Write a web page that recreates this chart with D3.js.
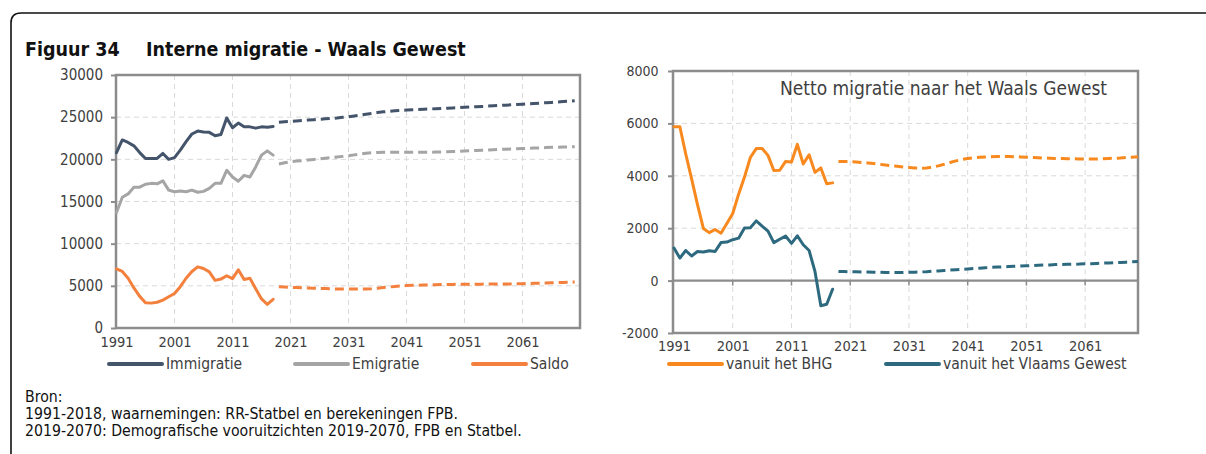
<!DOCTYPE html>
<html>
<head>
<meta charset="utf-8">
<script src="https://cdn.jsdelivr.net/npm/d3@7"></script>
<style>
  html, body { margin: 0; padding: 0; background: #fff; }
  svg { display: block; }
</style>
</head>
<body>
<svg id="fig" width="1206" height="454"></svg>
<script>
// ---- Data -------------------------------------------------------------
// Observed years 1991-2018, projection years 2019-2070
const obsYears = d3.range(1991, 2019);
const projYears = d3.range(2019, 2071);
const yearTicks = [1991, 2001, 2011, 2021, 2031, 2041, 2051, 2061];
const leftYTicks = [0, 5000, 10000, 15000, 20000, 25000, 30000];
const rightYTicks = [-2000, 0, 2000, 4000, 6000, 8000];

// Interne migratie - Waals Gewest (waarnemingen)
const immigratieObs = [20800, 22300, 22000, 21600, 20800, 20100, 20100, 20100, 20700, 20000,
  20200, 21100, 22100, 23000, 23350, 23250, 23200, 22800, 22950, 24900,
  23750, 24300, 23850, 23850, 23700, 23850, 23800, 23900];
const emigratieObs = [13700, 15500, 15900, 16700, 16700, 17050, 17150, 17100, 17450, 16350,
  16150, 16250, 16150, 16350, 16100, 16200, 16550, 17150, 17150, 18700,
  17900, 17400, 18100, 17900, 19100, 20500, 21000, 20500];
const saldoObs = [7000, 6700, 5900, 4750, 3750, 3000, 2950, 3050, 3300, 3700,
  4100, 4900, 5900, 6700, 7250, 7050, 6650, 5650, 5800, 6200,
  5850, 6900, 5750, 5900, 4650, 3450, 2800, 3400];

// Vooruitzichten 2019-2070
const immigratieProj = [24400, 24450, 24500, 24550, 24600, 24650, 24700, 24750, 24800, 24850,
  24900, 24980, 25050, 25150, 25250, 25350, 25450, 25550, 25630, 25700,
  25760, 25810, 25850, 25880, 25910, 25940, 25970, 26000, 26030, 26060,
  26100, 26130, 26170, 26200, 26240, 26270, 26310, 26350, 26380, 26420,
  26460, 26500, 26530, 26570, 26620, 26660, 26710, 26750, 26800, 26850,
  26900, 26950];
const emigratieProj = [19450, 19600, 19720, 19790, 19850, 19920, 19990, 20060, 20130, 20200,
  20270, 20350, 20430, 20530, 20630, 20720, 20790, 20820, 20830, 20840,
  20840, 20830, 20830, 20830, 20840, 20840, 20850, 20860, 20880, 20900,
  20930, 20960, 20990, 21020, 21050, 21080, 21110, 21140, 21170, 21200,
  21220, 21250, 21270, 21300, 21330, 21360, 21390, 21420, 21440, 21460,
  21480, 21500];
const saldoProj = [4900, 4860, 4820, 4790, 4760, 4730, 4710, 4690, 4670, 4650,
  4630, 4620, 4610, 4610, 4610, 4630, 4660, 4720, 4790, 4860,
  4920, 4980, 5030, 5060, 5080, 5100, 5120, 5140, 5150, 5160,
  5170, 5180, 5190, 5190, 5200, 5200, 5210, 5210, 5220, 5220,
  5230, 5250, 5260, 5280, 5300, 5320, 5340, 5360, 5390, 5410,
  5430, 5460];

// Netto migratie naar het Waals Gewest
const bhgObs = [5870, 5870, 4830, 3880, 2900, 1990, 1830, 1950, 1810, 2180,
  2560, 3300, 3950, 4700, 5040, 5040, 4780, 4200, 4210, 4550,
  4530, 5200, 4450, 4800, 4130, 4300, 3700, 3730];
const vlaamsObs = [1240, 860, 1150, 940, 1110, 1090, 1140, 1110, 1450, 1470,
  1560, 1620, 2010, 2020, 2280, 2080, 1890, 1450, 1580, 1700,
  1420, 1710, 1370, 1150, 350, -960, -900, -330];
const bhgProj = [4550, 4550, 4540, 4530, 4510, 4490, 4470, 4440, 4410, 4380,
  4360, 4340, 4320, 4300, 4290, 4300, 4330, 4380, 4440, 4510,
  4570, 4620, 4660, 4690, 4710, 4720, 4730, 4740, 4740, 4740,
  4730, 4720, 4710, 4700, 4690, 4680, 4670, 4660, 4660, 4650,
  4650, 4640, 4640, 4640, 4640, 4650, 4660, 4670, 4680, 4700,
  4710, 4730];
const vlaamsProj = [350, 345, 340, 335, 330, 325, 320, 315, 310, 305,
  305, 310, 315, 320, 330, 340, 355, 370, 385, 400,
  415, 430, 445, 460, 475, 490, 505, 515, 525, 535,
  545, 555, 565, 575, 585, 595, 600, 610, 615, 620,
  625, 630, 640, 645, 655, 665, 675, 685, 695, 705,
  715, 725];

// ---- Styling ----------------------------------------------------------
const FONT = '"DejaVu Sans Condensed", "DejaVu Sans", sans-serif';
const TEXT = "#404040";
const AXIS = "#8c8c8c";
const GRID = "#d9d9d9";
const C_IMM = "#44546a", C_EMI = "#a5a5a5", C_SAL = "#f4803d";
const C_BHG = "#f7891f", C_VLA = "#2e6a7f";

const svg = d3.select("#fig").style("font-family", FONT).style("font-stretch", "condensed");

// Rounded frame around the figure
svg.append("path")
  .attr("d", "M11,454 V23 Q11,13 21,13 H1206")
  .attr("fill", "none").attr("stroke", "#111").attr("stroke-width", 1.6);

// Figure title
const titleG = svg.append("g").attr("font-weight", "bold").attr("font-size", 19.5).attr("fill", "#111");
titleG.append("text").attr("x", 25).attr("y", 56).text("Figuur 34");
titleG.append("text").attr("x", 146).attr("y", 56).text("Interne migratie - Waals Gewest");

// ---- Generic panel ----------------------------------------------------
function drawPanel(p) {
  const g = svg.append("g");
  const { x, y, left, right, top, bottom } = p;

  // dashed gridlines
  g.append("g").selectAll("line")
    .data(p.yTicks.filter(v => y(v) > top + 1 && y(v) < bottom - 1 && v !== p.zeroAxis))
    .join("line")
    .attr("x1", left).attr("x2", right).attr("y1", d => y(d)).attr("y2", d => y(d))
    .attr("stroke", GRID).attr("stroke-width", 1).attr("stroke-dasharray", "5,4");
  g.append("g").selectAll("line")
    .data(yearTicks.filter(v => x(v) > left + 1))
    .join("line")
    .attr("x1", d => x(d)).attr("x2", d => x(d)).attr("y1", top).attr("y2", bottom)
    .attr("stroke", GRID).attr("stroke-width", 1).attr("stroke-dasharray", "5,4");

  // plot border
  g.append("rect")
    .attr("x", left).attr("y", top).attr("width", right - left).attr("height", bottom - top)
    .attr("fill", "none").attr("stroke", AXIS).attr("stroke-width", 2.5);

  // horizontal zero axis with ticks (only when the scale goes negative)
  if (p.zeroAxis !== undefined) {
    const y0 = y(p.zeroAxis);
    g.append("line").attr("x1", left).attr("x2", right).attr("y1", y0).attr("y2", y0)
      .attr("stroke", AXIS).attr("stroke-width", 2.2);
    g.append("g").selectAll("line")
      .data(yearTicks.filter(v => x(v) > left + 1))
      .join("line")
      .attr("x1", d => x(d)).attr("x2", d => x(d)).attr("y1", y0).attr("y2", y0 + 5)
      .attr("stroke", AXIS).attr("stroke-width", 1.5);
  }

  // y axis labels + outward ticks
  const ya = g.append("g").attr("transform", `translate(${left},0)`)
    .call(d3.axisLeft(y).tickValues(p.yTicks).tickSize(5).tickPadding(p.yPad).tickFormat(d => String(d)));
  ya.select(".domain").remove();
  ya.selectAll(".tick line").attr("stroke", AXIS).attr("stroke-width", 2);
  ya.selectAll(".tick text").attr("fill", TEXT).attr("font-family", FONT)
    .attr("font-size", p.yFont);

  // x axis labels
  const xa = g.append("g").attr("transform", `translate(0,${bottom})`)
    .call(d3.axisBottom(x).tickValues(yearTicks).tickSize(0).tickPadding(p.xPad).tickFormat(d => String(d)));
  xa.select(".domain").remove();
  xa.selectAll(".tick text").attr("fill", TEXT).attr("font-family", FONT)
    .attr("font-size", p.xFont);

  // series: solid for observations, dashed for projections
  p.series.forEach(s => {
    const line = d3.line().x(d => x(d[0])).y(d => y(d[1]));
    g.append("path")
      .datum(obsYears.map((yr, i) => [yr, s.obs[i]]))
      .attr("d", line).attr("fill", "none").attr("stroke", s.color)
      .attr("stroke-width", 3).attr("stroke-linejoin", "round").attr("stroke-linecap", "round");
    g.append("path")
      .datum(projYears.map((yr, i) => [yr, s.proj[i]]))
      .attr("d", line).attr("fill", "none").attr("stroke", s.color)
      .attr("stroke-width", 3).attr("stroke-linejoin", "round")
      .attr("stroke-dasharray", "9,5");
  });

  // legend
  const lg = g.append("g").attr("font-size", 15.5).attr("fill", TEXT);
  p.series.forEach(s => {
    lg.append("line").attr("x1", s.lx).attr("x2", s.lx + 53)
      .attr("y1", p.legendY).attr("y2", p.legendY)
      .attr("stroke", s.color).attr("stroke-width", 4).attr("stroke-linecap", "round");
    lg.append("text").attr("x", s.lx + 57).attr("y", p.legendY).attr("dy", "0.35em").text(s.name);
  });
  return g;
}

// ---- Left panel: immigratie, emigratie, saldo ------------------------
const xL = d3.scaleLinear().domain([1991, 2071]).range([116.5, 580.5]);
const yL = d3.scaleLinear().domain([0, 30000]).range([328, 75]);
drawPanel({
  x: xL, y: yL, left: 116, right: 580, top: 75, bottom: 328,
  yTicks: leftYTicks, yPad: 8, yFont: 15, xPad: 9, xFont: 14.5, legendY: 364,
  series: [
    { name: "Immigratie", color: C_IMM, obs: immigratieObs, proj: immigratieProj, lx: 109 },
    { name: "Emigratie", color: C_EMI, obs: emigratieObs, proj: emigratieProj, lx: 295 },
    { name: "Saldo", color: C_SAL, obs: saldoObs, proj: saldoProj, lx: 473 }
  ]
});

// ---- Right panel: netto migratie naar het Waals Gewest ---------------
const xR = d3.scaleLinear().domain([1991, 2070]).range([674, 1138]);
const yR = d3.scaleLinear().domain([-2000, 8000]).range([333, 71]);
drawPanel({
  x: xR, y: yR, left: 673, right: 1138, top: 71, bottom: 333, zeroAxis: 0,
  yTicks: rightYTicks, yPad: 9.5, yFont: 14, xPad: 8, xFont: 14.5, legendY: 364,
  series: [
    { name: "vanuit het BHG", color: C_BHG, obs: bhgObs, proj: bhgProj, lx: 669 },
    { name: "vanuit het Vlaams Gewest", color: C_VLA, obs: vlaamsObs, proj: vlaamsProj, lx: 886 }
  ]
});

svg.append("text")
  .attr("x", 780).attr("y", 95)
  .attr("font-size", 19).attr("fill", TEXT)
  .text("Netto migratie naar het Waals Gewest");

// ---- Source note ------------------------------------------------------
const src = svg.append("g").attr("font-size", 15.7).attr("fill", "#111");
src.append("text").attr("x", 25).attr("y", 402).text("Bron:");
src.append("text").attr("x", 25).attr("y", 419).text("1991-2018, waarnemingen: RR-Statbel en berekeningen FPB.");
src.append("text").attr("x", 25).attr("y", 436).text("2019-2070: Demografische vooruitzichten 2019-2070, FPB en Statbel.");
</script>
</body>
</html>
